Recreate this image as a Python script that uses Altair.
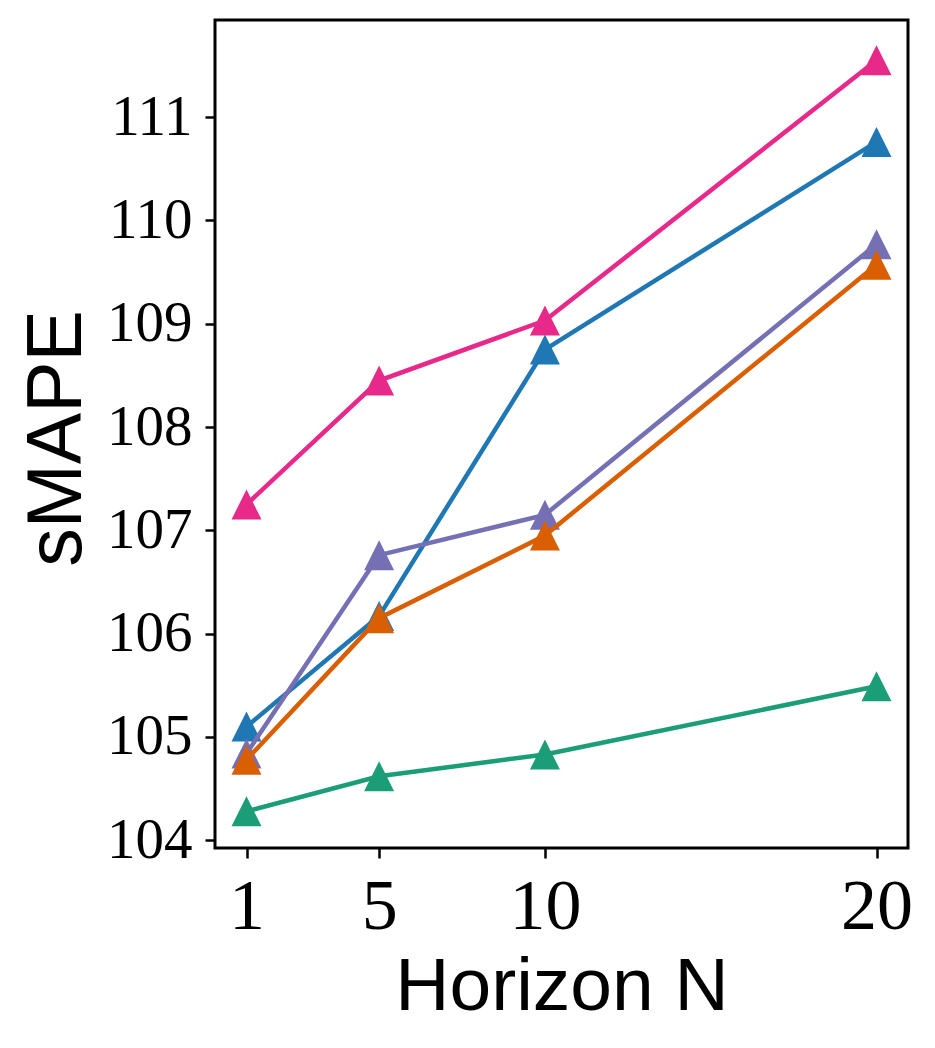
import altair as alt
import pandas as pd

horizons = [1, 5, 10, 20]
series_names = ["blue", "pink", "green", "purple", "orange"]
series_colors = ["#1f77b4", "#e7298a", "#1b9e77", "#7570b3", "#d95f02"]
blue = [105.10, 106.17, 108.75, 110.76]
pink = [107.25, 108.45, 109.03, 111.55]
green = [104.28, 104.62, 104.83, 105.49]
purple = [104.84, 106.76, 107.15, 109.77]
orange = [104.78, 106.15, 106.95, 109.57]

values = [blue, pink, green, purple, orange]
rows = []
for i, (name, vals) in enumerate(zip(series_names, values)):
    for h, v in zip(horizons, vals):
        rows.append({"series": name, "order": i, "N": h, "sMAPE": v})
df = pd.DataFrame(rows)

x = alt.X("N:Q", title="Horizon N",
          scale=alt.Scale(domain=[0.05, 20.95], nice=False, zero=False),
          axis=alt.Axis(values=horizons, labelFont="Liberation Serif", labelFontSize=72,
                        labelPadding=13, tickSize=10, tickWidth=2.5, tickColor="black",
                        domain=False, grid=False, labelColor="black",
                        titleFont="Liberation Sans", titleFontSize=75, titleFontWeight="normal",
                        titleColor="black", titleY=161, titleBaseline="alphabetic"))
y = alt.Y("sMAPE:Q", title="sMAPE",
          scale=alt.Scale(domain=[103.925, 111.94], nice=False, zero=False),
          axis=alt.Axis(values=[104, 105, 106, 107, 108, 109, 110, 111],
                        labelFont="Liberation Serif", labelFontSize=57, labelPadding=13,
                        tickSize=10, tickWidth=2.5, tickColor="black", domain=False, grid=False,
                        labelColor="black",
                        titleFont="Liberation Sans", titleFontSize=77, titleFontWeight="normal",
                        titleColor="black", titleX=-135, titleY=418, titleAngle=-90,
                        titleBaseline="alphabetic", titleAlign="center"))
color = alt.Color("series:N", scale=alt.Scale(domain=series_names, range=series_colors), legend=None)

layers = []
for i, name in enumerate(series_names):
    sub = df[df.series == name]
    base = alt.Chart(sub)
    line = base.mark_line(strokeWidth=4.5).encode(x=x, y=y, color=color)
    pts = base.mark_point(shape="M0,-1L1,1L-1,1Z", size=900, filled=True, opacity=1).encode(x=x, y=y, color=color)
    layers += [line, pts]

chart = alt.layer(*layers).properties(
    width=693, height=828,
    background="white",
    autosize=alt.AutoSizeParams(type="none"),
    padding={"left": 207, "top": 12, "right": 19, "bottom": 180},
).configure_view(stroke="black", strokeWidth=3)

chart.save("out.html", embed_options={"renderer": "svg", "actions": False})
